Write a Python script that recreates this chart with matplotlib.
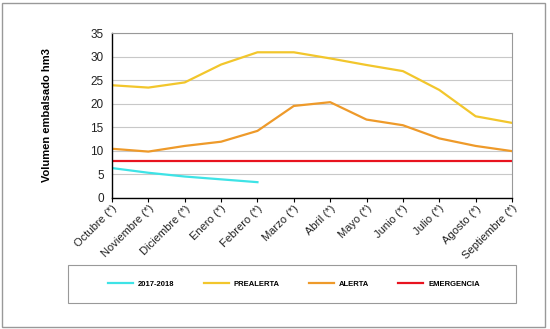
import numpy as np
import matplotlib.pyplot as plt
from matplotlib.patches import Rectangle

plt.rcParams["font.family"] = ["Liberation Sans", "DejaVu Sans"]

meses = ["Octubre (*)", "Noviembre (*)", "Diciembre (*)", "Enero (*)", "Febrero (*)",
         "Marzo (*)", "Abril (*)", "Mayo (*)", "Junio (*)", "Julio (*)", "Agosto (*)",
         "Septiembre (*)"]
actual = [6.3, 5.3, 4.5, 3.9, 3.3]
prealerta = [23.9, 23.4, 24.5, 28.3, 30.9, 30.9, 29.6, 28.2, 26.9, 22.9, 17.3, 15.9]
alerta = [10.4, 9.8, 11.0, 11.9, 14.2, 19.5, 20.3, 16.6, 15.4, 12.6, 11.0, 9.9]
emergencia = [7.8] * 12

x = np.arange(len(meses))

fig = plt.figure(figsize=(5.5, 3.29), dpi=100)
ax = fig.add_axes([112 / 550, 1 - 197.7 / 329, 400 / 550, 164.7 / 329])

lw = 1.6
ax.plot(x[:len(actual)], actual, color="#3ee3e6", lw=lw, label="2017-2018")
ax.plot(x, prealerta, color="#f2c62c", lw=lw, label="PREALERTA")
ax.plot(x, alerta, color="#ee9a2a", lw=lw, label="ALERTA")
ax.plot(x, emergencia, color="#e8131f", lw=lw, label="EMERGENCIA")

ax.set_xlim(0, len(meses) - 1)
ax.set_ylim(0, 35)
ax.set_yticks(range(0, 36, 5))
ax.yaxis.grid(True, color="#c8c8c8", lw=0.8)
ax.set_axisbelow(True)
ax.tick_params(axis="y", length=0, labelsize=8.5, pad=6, labelcolor="#222222")
ax.tick_params(axis="x", length=3, width=0.8, labelsize=8, pad=1, labelcolor="#222222")
ax.set_xticks(x)
ax.set_xticklabels(meses, rotation=45, ha="right", rotation_mode="anchor")
for s in ("left", "bottom"):
    ax.spines[s].set_color("black")
    ax.spines[s].set_linewidth(1.0)
for s in ("top", "right"):
    ax.spines[s].set_color("#999999")
    ax.spines[s].set_linewidth(0.8)
ax.set_ylabel("Volumen embalsado hm3", fontsize=8, fontweight="bold", labelpad=28)

# legend box drawn separately, entries centred inside it
fig.patches.append(Rectangle((68 / 550, 1 - 303 / 329), 448 / 550, 38 / 329,
                             transform=fig.transFigure, fill=False,
                             edgecolor="#999999", lw=0.8))
fig.legend(loc="center", bbox_to_anchor=(294 / 550, 1 - 284 / 329),
           ncol=4, frameon=False, prop={"size": 5.5, "weight": "bold"},
           handlelength=3.3, handletextpad=0.65, columnspacing=3.8)

fig.patches.append(Rectangle((2 / 550, 2 / 329), 543 / 550, 324 / 329, transform=fig.transFigure,
                             fill=False, edgecolor="#999999", lw=1.0))

fig.savefig("out.png", dpi=100)
